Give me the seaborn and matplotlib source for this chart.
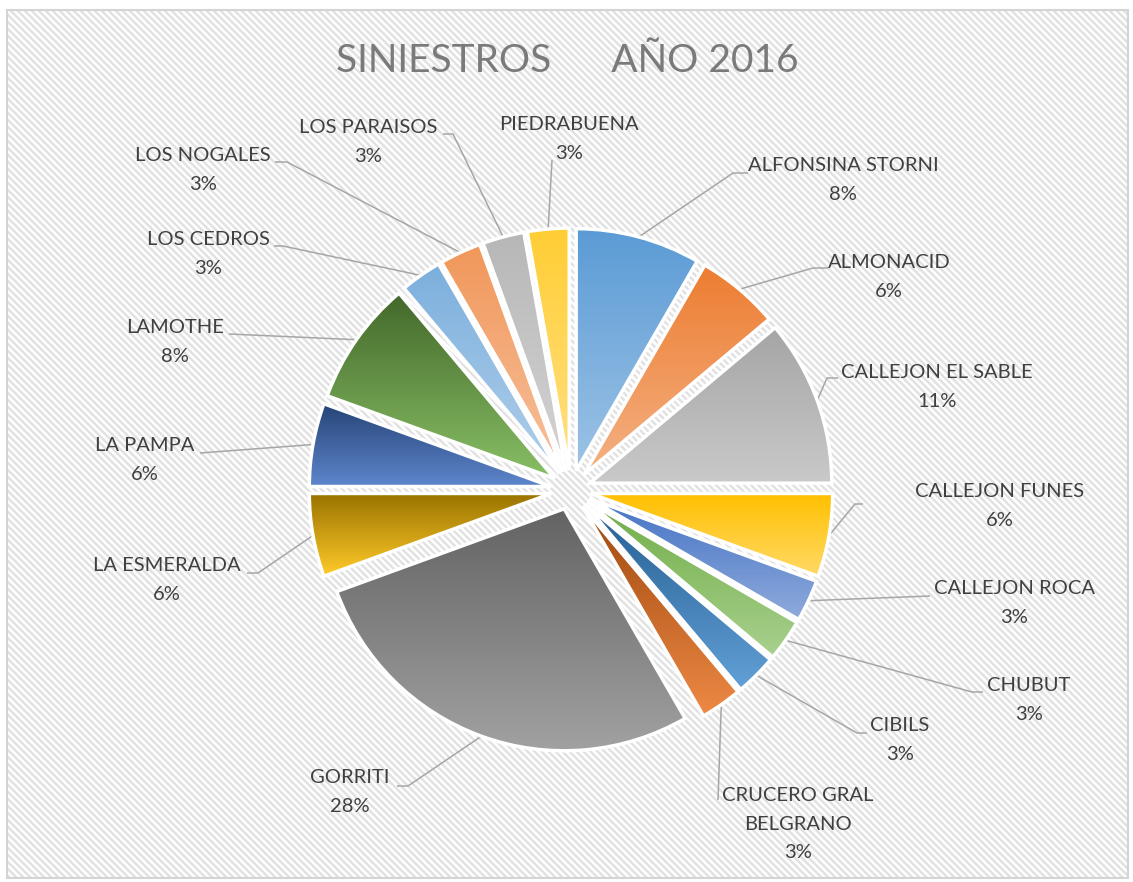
import colorsys
import numpy as np
import matplotlib
matplotlib.use('Agg')
import matplotlib.pyplot as plt
import seaborn as sns
from matplotlib.patches import Rectangle
from matplotlib.collections import LineCollection
from matplotlib.colors import to_rgb

# datos
barrios = ['ALFONSINA STORNI', 'ALMONACID', 'CALLEJON EL SABLE', 'CALLEJON FUNES',
           'CALLEJON ROCA', 'CHUBUT', 'CIBILS', 'CRUCERO GRAL\nBELGRANO', 'GORRITI',
           'LA ESMERALDA', 'LA PAMPA', 'LAMOTHE', 'LOS CEDROS', 'LOS NOGALES',
           'LOS PARAISOS', 'PIEDRABUENA']
siniestros = [3, 2, 4, 2, 1, 1, 1, 1, 10, 2, 2, 3, 1, 1, 1, 1]
colores = ['#5B9BD5', '#ED7D31', '#A5A5A5', '#FFC000', '#4472C4', '#70AD47',
           '#255E91', '#9E480E', '#636363', '#997300', '#264478', '#43682B',
           '#7CAFDD', '#F1975A', '#B7B7B7', '#FFCD33']
titulo = 'SINIESTROS      AÑO 2016'

# layout (pixeles, origen arriba a la izquierda)
W, H = 1133, 882
centro = (571, 490)
radio = 242
sep = 20
pos_etiqueta = [(843, 180), (889, 277), (937, 387), (1000, 506), (1014, 603), (1029, 700),
                (900, 740), (798, 824), (350, 792), (167, 580), (145, 460), (175, 342),
                (208, 254), (203, 170), (368, 142), (569, 139)]
fin_linea = [(748, 173), (828, 268), (838, 378), (863, 504), (930, 596), (983, 692),
             (867, 733), (718, 800), (397, 786), (247, 573), (200, 453), (229, 334),
             (274, 246), (275, 162), (443, 134), (552, 160)]
codo = [-15, -15, -11, -8, 0, -11, -10, 0, 11, 11, 0, 0, 9, 12, 10, 0]


def Y(y):
    return H - y


def aclarar(c, t=0.4):
    h, l, s = colorsys.rgb_to_hls(*to_rgb(c))
    return colorsys.hls_to_rgb(h, l + (1 - l) * t, s)


sns.set_theme(style='white')
plt.rcParams['font.family'] = ['Lato', 'DejaVu Sans']

fig = plt.figure(figsize=(W / 100, H / 100), dpi=100)
ax = fig.add_axes([0, 0, 1, 1])

# fondo rayado
fondo = Rectangle((7, Y(878)), 1121, 868, facecolor='white', edgecolor='none', zorder=0)
ax.add_patch(fondo)
rayas = [[(c, Y(0)), (c + H, Y(H))] for c in np.arange(-H, W, 7)]
lc = LineCollection(rayas, colors='#e2e2e2', linewidths=1.8, zorder=0.2)
ax.add_collection(lc)
lc.set_clip_path(fondo)
ax.add_patch(Rectangle((7, Y(878)), 1121, 868, facecolor='none', edgecolor='#d4d4d4',
                       linewidth=1.5, zorder=0.5))

paleta = sns.color_palette(colores)
wedges, _ = ax.pie(siniestros, colors=paleta, startangle=90, counterclock=False,
                   center=(centro[0], Y(centro[1])), radius=radio,
                   explode=[sep] * len(siniestros),
                   wedgeprops=dict(edgecolor='white', linewidth=2.5))

total = sum(siniestros)
for i, w in enumerate(wedges):
    c = paleta[i]
    w.set_facecolor('none')
    w.set_zorder(3)
    ext = w.get_path().get_extents()
    t = np.linspace(0, 1, 200)[:, None]
    top = np.array(to_rgb(c))
    bot = np.array(aclarar(c))
    grad = (top * (1 - t) + bot * t)[:, None, :]
    im = ax.imshow(grad, extent=(ext.x0, ext.x1, ext.y0, ext.y1), origin='upper',
                   aspect='auto', interpolation='bilinear', zorder=2)
    im.set_clip_path(w)

    # linea guia
    ang = np.deg2rad((w.theta1 + w.theta2) / 2)
    px = w.center[0] + w.r * np.cos(ang)
    py = w.center[1] + w.r * np.sin(ang)
    ex, ey = fin_linea[i]
    ax.plot([px, ex + codo[i], ex], [py, Y(ey), Y(ey)], color='#a6a6a6', lw=1.1,
            zorder=1, solid_capstyle='butt')

    pct = round(siniestros[i] / total * 100)
    lx, ly = pos_etiqueta[i]
    ax.text(lx, Y(ly), f'{barrios[i]}\n{pct}%', ha='center', va='center',
            multialignment='center', fontsize=14.5, color='#404040', linespacing=1.8,
            zorder=4)

ax.text(567, Y(61), titulo, ha='center', va='center', fontsize=28, color='#7a7a7a', zorder=4)

ax.set_xlim(0, W)
ax.set_ylim(0, H)
ax.set_aspect('auto')
ax.axis('off')

fig.savefig('out.png', dpi=100)
